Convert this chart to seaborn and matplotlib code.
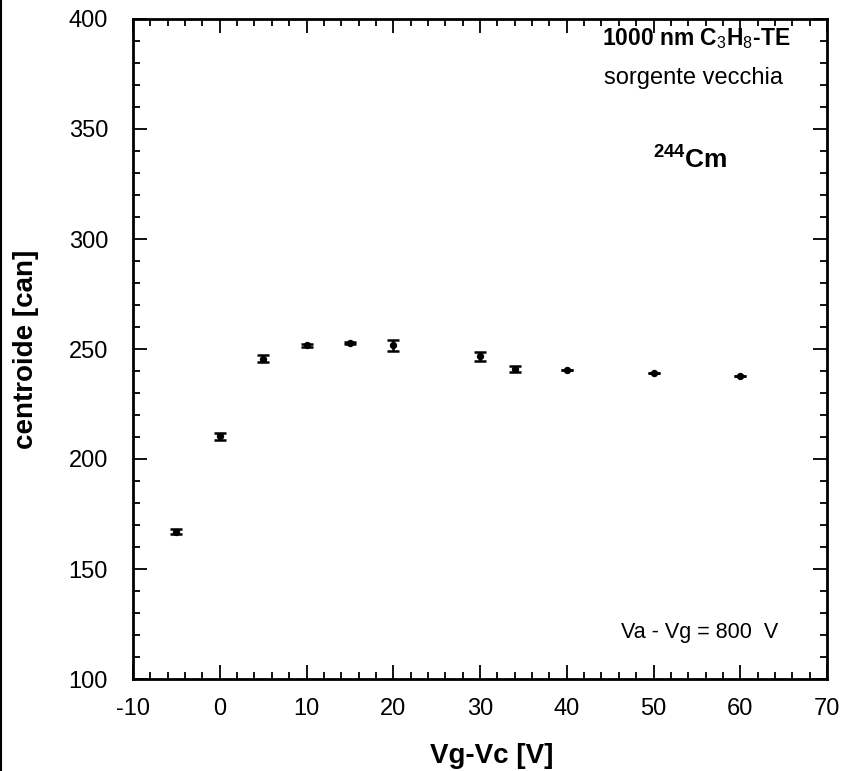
import numpy as np
import pandas as pd
import seaborn as sns
import matplotlib.pyplot as plt
from matplotlib.lines import Line2D
from matplotlib.ticker import MultipleLocator

# centroid vs Vg-Vc, 244Cm source
vg_vc = [-5, 0, 5, 10, 15, 20, 30, 34, 40, 50, 60]
centroide = [167.0, 210.3, 245.6, 251.7, 252.6, 251.6, 246.6, 240.9, 240.4, 239.0, 237.9]
err = [1.0, 1.5, 1.6, 0.8, 0.5, 2.4, 2.0, 1.5, 0.0, 0.0, 0.0]

df = pd.DataFrame({"Vg-Vc": vg_vc, "centroide": centroide, "err": err})

sns.set_style("ticks")
plt.rcParams["font.family"] = ["Liberation Sans", "DejaVu Sans"]
plt.rcParams["mathtext.fontset"] = "custom"
plt.rcParams["mathtext.rm"] = "Liberation Sans"
plt.rcParams["mathtext.bf"] = "Liberation Sans:bold"
plt.rcParams["axes.unicode_minus"] = False
plt.rcParams["text.color"] = "black"
plt.rcParams["axes.labelcolor"] = "black"

fig = plt.figure(figsize=(8.41, 7.71), dpi=100)
ax = fig.add_axes([133/841, 1-679/771, (827-133)/841, (679-19)/771])

ax.errorbar(df["Vg-Vc"], df["centroide"], yerr=df["err"], fmt="none",
            ecolor="black", elinewidth=1.8, capsize=4, capthick=1.8)
sns.scatterplot(data=df, x="Vg-Vc", y="centroide", ax=ax, color="black",
                s=28, edgecolor="black", linewidth=0, zorder=3)

ax.set_xlim(-10, 70)
ax.set_ylim(100, 400)
ax.xaxis.set_major_locator(MultipleLocator(10))
ax.xaxis.set_minor_locator(MultipleLocator(2))
ax.yaxis.set_major_locator(MultipleLocator(50))
ax.yaxis.set_minor_locator(MultipleLocator(10))
ax.tick_params(which="both", direction="in", top=True, right=True, width=1.3,
               colors="black", labelcolor="black")
ax.tick_params(which="major", length=10, labelsize=17)
ax.tick_params(axis="y", which="major", pad=18)
ax.tick_params(axis="x", which="major", pad=14)
ax.tick_params(which="minor", length=5)
for s in ax.spines.values():
    s.set_linewidth(2)
    s.set_color("black")

ax.set_xlabel("Vg-Vc [V]", fontsize=20, fontweight="bold")
ax.xaxis.set_label_coords(0.517, -0.097)
ax.set_ylabel("centroide [can]", fontsize=20, fontweight="bold", labelpad=21)

ax.text(0.811, 0.971, r"1000 nm C$_{3}$H$_{8}$-TE", transform=ax.transAxes,
        ha="center", va="center", fontsize=16.5, fontweight="bold")
ax.text(0.807, 0.91, "sorgente vecchia", transform=ax.transAxes,
        ha="center", va="center", fontsize=17)
ax.text(0.803, 0.786, r"$\mathbf{^{244}}$Cm", transform=ax.transAxes,
        ha="center", va="center", fontsize=19, fontweight="bold")
ax.text(0.816, 0.071, "Va - Vg = 800  V", transform=ax.transAxes,
        ha="center", va="center", fontsize=15.5)

fig.add_artist(Line2D([0.0015, 0.0015], [0, 1], color="black", linewidth=1.5,
                      transform=fig.transFigure))

fig.savefig("out.png", dpi=100, facecolor="white")
